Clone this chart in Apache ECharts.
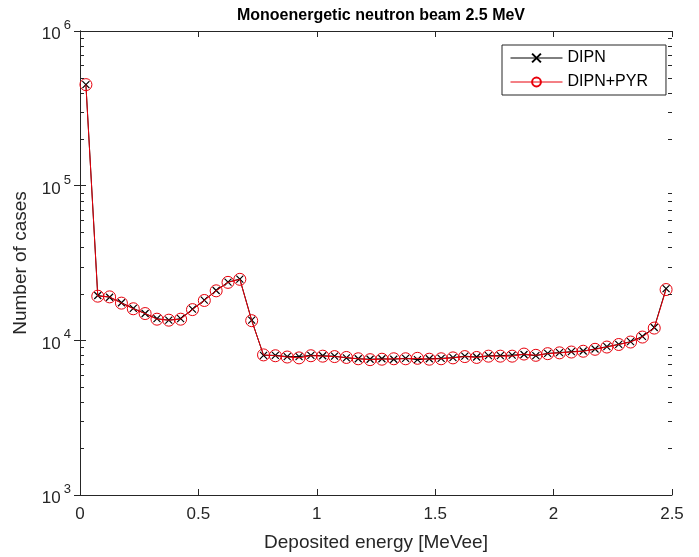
<!DOCTYPE html>
<html>
<head>
<meta charset="utf-8">
<script src="https://cdn.jsdelivr.net/npm/echarts@6/dist/echarts.min.js"></script>
<style>
  html, body { margin: 0; padding: 0; background: #fff; }
  #main { width: 699px; height: 557px; }
</style>
</head>
<body>
<div id="main"></div>
<script>
// deposited energy bin centres [MeVee]
var energy = [
    0.025, 0.075, 0.125, 0.175, 0.225, 0.275, 0.325, 0.375, 0.425, 0.475,
    0.525, 0.575, 0.625, 0.675, 0.725, 0.775, 0.825, 0.875, 0.925, 0.975,
    1.025, 1.075, 1.125, 1.175, 1.225, 1.275, 1.325, 1.375, 1.425, 1.475,
    1.525, 1.575, 1.625, 1.675, 1.725, 1.775, 1.825, 1.875, 1.925, 1.975,
    2.025, 2.075, 2.125, 2.175, 2.225, 2.275, 2.325, 2.375, 2.425, 2.475
];

var dipn = [
    450000, 19500, 19000, 17500, 16100, 14900, 13800, 13500, 13800, 15900,
    18200, 21000, 23800, 24900, 13500, 8000, 8000, 7850, 7850, 8000,
    7950, 7900, 7700, 7600, 7550, 7600, 7550, 7650, 7500, 7600,
    7650, 7730, 7900, 7800, 7960, 7960, 8030, 8100, 7960, 8240,
    8330, 8450, 8530, 8790, 9100, 9420, 9800, 10600, 12100, 21600
];

var dipnPyr = [
    450000, 19300, 19100, 17400, 16000, 14900, 13700, 13500, 13700, 15800,
    18100, 20900, 23700, 24800, 13400, 8050, 7950, 7800, 7700, 7950,
    7900, 7850, 7750, 7600, 7500, 7550, 7600, 7600, 7650, 7550,
    7600, 7700, 7850, 7750, 7900, 7900, 7900, 8150, 8000, 8200,
    8300, 8400, 8500, 8750, 9050, 9400, 9750, 10500, 12000, 21300
];

var yTicks = [1000, 10000, 100000, 1000000];

var chart = echarts.init(document.getElementById('main'));

function pairs(ys) {
    return energy.map(function (x, i) { return [x, ys[i]]; });
}

var axisColor = '#262626';
var font = 'Liberation Sans, Arial, Helvetica, sans-serif';
var xMark = 'path://M0,0L10,10M10,0L0,10';
var ring = 'path://M10,5A5,5,0,1,1,0,5A5,5,0,1,1,10,5Z';
var red = '#e8000b';

var option = {
    animation: false,
    backgroundColor: '#fff',
    title: {
        text: 'Monoenergetic neutron beam 2.5 MeV',
        left: 376, top: 3, textAlign: 'center',
        textStyle: { fontFamily: font, fontSize: 16, fontWeight: 'bold', color: '#000' }
    },
    legend: {
        orient: 'vertical',
        left: 502, top: 45,
        padding: [5, 18, 5, 8],
        itemGap: 8,
        itemWidth: 52, itemHeight: 11,
        borderColor: axisColor, borderWidth: 1,
        backgroundColor: '#fff',
        lineStyle: { width: 1 },
        textStyle: { fontFamily: font, fontSize: 16, color: '#000' },
        data: ['DIPN', 'DIPN+PYR']
    },
    grid: { left: 80, right: 27, top: 31, bottom: 60 },
    xAxis: [{
        type: 'value', min: 0, max: 2.5, interval: 0.5,
        name: 'Deposited energy [MeVee]', nameLocation: 'middle', nameGap: 38,
        nameTextStyle: { fontFamily: font, fontSize: 19, color: '#262626' },
        axisLine: { lineStyle: { color: axisColor, width: 1 } },
        axisTick: { inside: true, length: 6, lineStyle: { color: axisColor } },
        axisLabel: { fontFamily: font, fontSize: 17, color: '#262626', margin: 11 },
        splitLine: { show: false }
    }, {
        type: 'value', min: 0, max: 2.5, interval: 0.5, position: 'top',
        axisLine: { show: true, lineStyle: { color: axisColor, width: 1 } },
        axisTick: { inside: true, length: 6, lineStyle: { color: axisColor } },
        axisLabel: { show: false },
        splitLine: { show: false }
    }],
    yAxis: [{
        type: 'log', logBase: 10, min: 1000, max: 1000000,
        name: 'Number of cases', nameLocation: 'middle', nameGap: 50,
        nameTextStyle: { fontFamily: font, fontSize: 19, color: '#262626' },
        axisLine: { show: true, lineStyle: { color: axisColor, width: 1 } },
        axisTick: { inside: true, length: 6, lineStyle: { color: axisColor } },
        axisLabel: {
            margin: 9,
            formatter: function (v) {
                return '{b|10}{s|' + Math.round(Math.log10(v)) + '}';
            },
            rich: {
                b: { fontFamily: font, fontSize: 17, color: '#262626', padding: [7, 0, 0, 0] },
                s: { fontFamily: font, fontSize: 13, color: '#262626', verticalAlign: 'top', padding: [0, 0, 8, 3] }
            }
        },
        splitLine: { show: false }
    }, {
        type: 'log', logBase: 10, min: 1000, max: 1000000, position: 'right',
        axisLine: { show: true, lineStyle: { color: axisColor, width: 1 } },
        axisTick: { inside: true, length: 6, lineStyle: { color: axisColor } },
        axisLabel: { show: false },
        splitLine: { show: false }
    }],
    series: [{
        name: 'DIPN',
        type: 'line',
        data: pairs(dipn),
        symbol: xMark,
        symbolSize: 7,
        showAllSymbol: true,
        lineStyle: { color: '#000', width: 1 },
        itemStyle: { color: 'rgba(0,0,0,0)', borderColor: '#000', borderWidth: 1.2 },
        z: 2
    }, {
        name: 'DIPN+PYR',
        type: 'line',
        data: pairs(dipnPyr),
        symbol: ring,
        symbolSize: 12,
        showAllSymbol: true,
        lineStyle: { color: red, width: 1 },
        itemStyle: { color: 'rgba(0,0,0,0)', borderColor: red, borderWidth: 1 },
        z: 3
    }]
};

chart.setOption(option);

// minor ticks 2..9 of each decade, both sides
var minor = [];
var left = 80, right = 699 - 27;
for (var d = 0; d < yTicks.length - 1; d++) {
    for (var m = 2; m <= 9; m++) {
        var py = Math.round(chart.convertToPixel({ yAxisIndex: 0 }, yTicks[d] * m)) + 0.5;
        minor.push({ type: 'line', shape: { x1: left, y1: py, x2: left + 4, y2: py },
            style: { stroke: axisColor, lineWidth: 1 }, silent: true, z: 10 });
        minor.push({ type: 'line', shape: { x1: right - 4, y1: py, x2: right, y2: py },
            style: { stroke: axisColor, lineWidth: 1 }, silent: true, z: 10 });
    }
}
chart.setOption({ graphic: minor });
</script>
</body>
</html>
